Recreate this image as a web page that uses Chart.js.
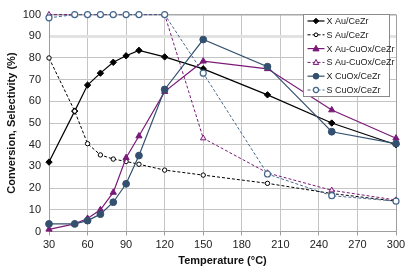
<!DOCTYPE html>
<html>
<head>
<meta charset="utf-8">
<script src="https://cdn.jsdelivr.net/npm/chart.js@4/dist/chart.umd.min.js"></script>
<style>
html, body { margin: 0; padding: 0; background: #fff; }
</style>
</head>
<body>
<canvas id="chart" width="414" height="273"></canvas>
<script>
// temperatures (°C)
var temps = [30, 50, 60, 70, 80, 90, 100, 120, 150, 200, 250, 300];

// conversion (X) and selectivity (S), %
var xAuCeZr     = [32, 55.5, 67.5, 73, 78, 81, 83.5, 80.5, 75, 63, 50, 40];
var sAuCeZr     = [80, 55.5, 40.5, 35.3, 33.4, 32.3, 31, 28.3, 26, 22.2, 17.5, 14];
var xAuCuOxCeZr = [1, 3.5, 6, 10, 18, 34, 44, 64.5, 78.5, 75, 56, 43];
var sAuCuOxCeZr = [100, 100, 100, 100, 100, 100, 100, 100, 43, 27, 19, 14.5];
var xCuOxCeZr   = [3.5, 3.5, 5, 8, 13.5, 22, 35, 65.5, 88.5, 76, 46, 40.5];
var sCuOxCeZr   = [98.5, 100, 100, 100, 100, 100, 100, 100, 73, 26.5, 16.5, 14];

var xTicks = [30, 60, 90, 120, 150, 180, 210, 240, 270, 300];

var purple = "#7a1a78";
var navy = "#33506f";

function pts(vals) {
    return temps.map(function (t, i) { return { x: t, y: vals[i] }; });
}

var datasets = [
    {
        label: "X Au/CeZr",
        data: pts(xAuCeZr),
        borderColor: "#000",
        backgroundColor: "#000",
        borderWidth: 1.2,
        pointStyle: "rectRot",
        pointRadius: 3.2,
        pointBorderWidth: 1,
        order: 6
    },
    {
        label: "S Au/CeZr",
        data: pts(sAuCeZr),
        borderColor: "#000",
        backgroundColor: "#fff",
        borderWidth: 1,
        borderDash: [3, 2],
        pointStyle: "circle",
        pointRadius: 2.2,
        pointBorderWidth: 1,
        order: 5
    },
    {
        label: "X Au-CuOx/CeZr",
        data: pts(xAuCuOxCeZr),
        borderColor: purple,
        backgroundColor: purple,
        borderWidth: 1.2,
        pointStyle: "triangle",
        pointRadius: 3.6,
        pointBorderWidth: 1,
        order: 4
    },
    {
        label: "S Au-CuOx/CeZr",
        data: pts(sAuCuOxCeZr),
        borderColor: purple,
        backgroundColor: "#f4e6f4",
        borderWidth: 1,
        borderDash: [3, 2],
        pointStyle: "triangle",
        pointRadius: 3.2,
        pointBorderWidth: 1,
        order: 3
    },
    {
        label: "X CuOx/CeZr",
        data: pts(xCuOxCeZr),
        borderColor: navy,
        backgroundColor: navy,
        borderWidth: 1.2,
        pointStyle: "circle",
        pointRadius: 3.4,
        pointBorderWidth: 1,
        order: 2
    },
    {
        label: "S CuOx/CeZr",
        data: pts(sCuOxCeZr),
        borderColor: "#46678c",
        backgroundColor: "#fff",
        borderWidth: 1,
        borderDash: [3, 2],
        pointStyle: "circle",
        pointRadius: 3,
        pointBorderWidth: 1.2,
        order: 1
    }
];
datasets.forEach(function (ds) { ds.clip = false; });

function marker(ctx, style, r, x, y) {
    ctx.beginPath();
    if (style === "circle") {
        ctx.arc(x, y, r, 0, Math.PI * 2);
    } else if (style === "triangle") {
        ctx.moveTo(x, y - r * 1.1);
        ctx.lineTo(x + r, y + r * 0.75);
        ctx.lineTo(x - r, y + r * 0.75);
        ctx.closePath();
    } else {
        ctx.moveTo(x, y - r);
        ctx.lineTo(x + r, y);
        ctx.lineTo(x, y + r);
        ctx.lineTo(x - r, y);
        ctx.closePath();
    }
    ctx.fill();
    ctx.stroke();
}

// boxed legend inside the plot, top right
var boxLegend = {
    id: "boxLegend",
    afterDraw: function (chart) {
        var ctx = chart.ctx;
        var x0 = 303.5, y0 = 14.5, w = 86, h = 82;
        ctx.save();
        ctx.fillStyle = "#fff";
        ctx.fillRect(x0, y0, w, h);
        ctx.strokeStyle = "#8a8a8a";
        ctx.lineWidth = 1;
        ctx.strokeRect(x0, y0, w, h);
        ctx.font = "9px 'Liberation Sans', Arial, sans-serif";
        ctx.textBaseline = "middle";
        chart.data.datasets.forEach(function (ds, i) {
            var y = y0 + 6.5 + i * 13.8;
            ctx.strokeStyle = ds.borderColor;
            ctx.lineWidth = ds.borderWidth;
            ctx.setLineDash(ds.borderDash || []);
            ctx.beginPath();
            ctx.moveTo(x0 + 4, y);
            ctx.lineTo(x0 + 21, y);
            ctx.stroke();
            ctx.setLineDash([]);
            ctx.fillStyle = ds.backgroundColor;
            ctx.lineWidth = ds.pointBorderWidth;
            marker(ctx, ds.pointStyle, ds.pointRadius * 0.85, x0 + 12.5, y);
            ctx.fillStyle = "#222";
            ctx.fillText(ds.label, x0 + 23, y + 0.5);
        });
        ctx.restore();
    }
};

var ctx = document.getElementById("chart");
var chart = new Chart(ctx, {
    type: "line",
    data: { datasets: datasets },
    options: {
        responsive: false,
        animation: false,
        layout: { padding: { left: 0, right: 18, top: 13, bottom: 0 } },
        elements: { line: { tension: 0 } },
        plugins: {
            legend: { display: false },
            tooltip: { enabled: false }
        },
        scales: {
            x: {
                type: "linear",
                min: 30,
                max: 300,
                afterBuildTicks: function (scale) {
                    scale.ticks = xTicks.map(function (v) { return { value: v }; });
                },
                afterFit: function (scale) { scale.height = 41.5; },
                grid: {
                    color: function (c) { return c.tick && c.tick.value === 300 ? "#9e9e9e" : "#c4c4c4"; },
                    lineWidth: 1,
                    drawTicks: true,
                    tickLength: 4,
                    tickColor: "#9e9e9e"
                },
                border: { color: "#9e9e9e" },
                ticks: {
                    color: "#222",
                    padding: 3,
                    maxRotation: 0,
                    font: { family: "'Liberation Sans', Arial, sans-serif", size: 11 }
                },
                title: {
                    display: true,
                    text: "Temperature (°C)",
                    color: "#111",
                    padding: { top: 0, bottom: 5 },
                    font: { family: "'Liberation Sans', Arial, sans-serif", size: 11, weight: "bold" }
                }
            },
            y: {
                min: 0,
                max: 100,
                afterFit: function (scale) { scale.width = 49; },
                grid: {
                    color: function (c) {
                        if (!c.tick) return "#c4c4c4";
                        if (c.tick.value === 100) return "#a8a8a8";
                        if (c.tick.value === 90) return "#e2e2e2";
                        return "#c4c4c4";
                    },
                    lineWidth: function (c) {
                        if (c.tick && c.tick.value === 90) return 3;
                        if (c.tick && c.tick.value === 100) return 1.5;
                        return 1;
                    },
                    drawTicks: false
                },
                border: { color: "#9e9e9e" },
                ticks: {
                    stepSize: 10,
                    color: "#222",
                    padding: 8,
                    font: { family: "'Liberation Sans', Arial, sans-serif", size: 11 }
                },
                title: {
                    display: true,
                    text: "Conversion, Selectivity (%)",
                    color: "#111",
                    padding: { top: 5, bottom: 0 },
                    font: { family: "'Liberation Sans', Arial, sans-serif", size: 11, weight: "bold" }
                }
            }
        }
    },
    plugins: [boxLegend]
});
</script>
</body>
</html>
